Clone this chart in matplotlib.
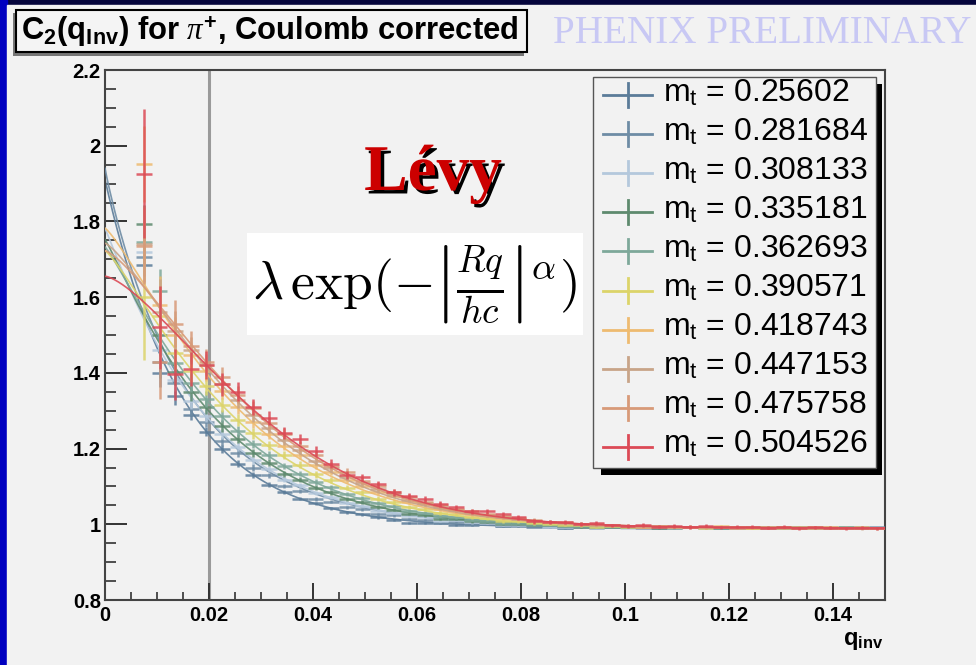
import numpy as np
import matplotlib.pyplot as plt
import matplotlib.patheffects as pe
from matplotlib.patches import Rectangle
from matplotlib.lines import Line2D
from matplotlib.ticker import MultipleLocator, FuncFormatter

plt.rcParams['font.family'] = ['Liberation Sans', 'DejaVu Sans']
plt.rcParams['mathtext.fontset'] = 'custom'
plt.rcParams['mathtext.rm'] = 'Liberation Sans'
plt.rcParams['mathtext.it'] = 'Liberation Serif:italic'
plt.rcParams['mathtext.bf'] = 'Liberation Sans:bold'

W, H = 976, 665

mt_labels = ['0.25602', '0.281684', '0.308133', '0.335181', '0.362693',
             '0.390571', '0.418743', '0.447153', '0.475758', '0.504526']
colors = ['#5b7c99', '#6e8ca5', '#b4c8dc', '#5e8a6e', '#7ea89a',
          '#dcd46a', '#eebb70', '#c8a488', '#d89a78', '#dc4a56']

# bin centres of the C2 histograms (bin width 0.003)
q_bins = [0.0075, 0.0105, 0.0135, 0.0165, 0.0195, 0.0225, 0.0255, 0.0285, 0.0315, 0.0345,
          0.0375, 0.0405, 0.0435, 0.0465, 0.0495, 0.0525, 0.0555, 0.0585, 0.0615, 0.0645,
          0.0675, 0.0705, 0.0735, 0.0765, 0.0795, 0.0825, 0.0855, 0.0885, 0.0915, 0.0945,
          0.0975, 0.1005, 0.1035, 0.1065, 0.1095, 0.1125, 0.1155, 0.1185, 0.1215, 0.1245,
          0.1275, 0.1305, 0.1335, 0.1365, 0.1395, 0.1425, 0.1455, 0.1485]
bin_half = 0.0015

c2_mt1 = [1.686, 1.40, 1.34, 1.29, 1.245, 1.20, 1.16, 1.13, 1.105, 1.085,
          1.068, 1.055, 1.042, 1.032, 1.026, 1.018, 1.011, 1.004, 1.003, 1.004,
          0.999, 0.998, 1.000, 0.995, 0.995, 0.994, 0.992, 0.989, 0.993, 0.994,
          0.993, 0.992, 0.994, 0.991, 0.993, 0.992, 0.990, 0.993, 0.991, 0.992,
          0.990, 0.992, 0.991, 0.989, 0.991, 0.990, 0.992, 0.990]
c2_mt2 = [1.705, 1.43, 1.372, 1.305, 1.271, 1.219, 1.188, 1.150, 1.129, 1.101,
          1.088, 1.068, 1.060, 1.045, 1.040, 1.027, 1.024, 1.014, 1.012, 1.004,
          1.007, 1.000, 1.001, 0.995, 0.998, 0.995, 0.995, 0.991, 0.993, 0.990,
          0.992, 0.994, 0.991, 0.993, 0.990, 0.992, 0.993, 0.990, 0.992, 0.991,
          0.989, 0.992, 0.990, 0.991, 0.989, 0.991, 0.990, 0.992]
c2_mt3 = [1.72, 1.46, 1.382, 1.325, 1.287, 1.239, 1.205, 1.169, 1.145, 1.118,
          1.103, 1.082, 1.072, 1.057, 1.049, 1.036, 1.031, 1.022, 1.019, 1.010,
          1.011, 1.005, 1.003, 0.998, 0.999, 0.998, 0.994, 0.994, 0.992, 0.991,
          0.993, 0.991, 0.994, 0.992, 0.990, 0.993, 0.991, 0.992, 0.990, 0.993,
          0.991, 0.990, 0.992, 0.990, 0.991, 0.989, 0.991, 0.990]
c2_mt4 = [1.794, 1.50, 1.401, 1.349, 1.309, 1.260, 1.226, 1.189, 1.163, 1.134,
          1.118, 1.096, 1.084, 1.067, 1.059, 1.045, 1.039, 1.028, 1.024, 1.015,
          1.015, 1.008, 1.006, 1.002, 1.002, 0.999, 0.997, 0.996, 0.993, 0.993,
          0.994, 0.992, 0.995, 0.991, 0.993, 0.992, 0.994, 0.990, 0.992, 0.991,
          0.993, 0.990, 0.992, 0.991, 0.990, 0.992, 0.990, 0.991]
c2_mt5 = [1.745, 1.615, 1.426, 1.374, 1.331, 1.286, 1.246, 1.212, 1.183, 1.154,
          1.134, 1.112, 1.098, 1.080, 1.069, 1.056, 1.048, 1.036, 1.031, 1.022,
          1.019, 1.012, 1.010, 1.004, 1.004, 1.000, 0.998, 0.996, 0.995, 0.993,
          0.995, 0.993, 0.992, 0.994, 0.991, 0.993, 0.992, 0.990, 0.993, 0.991,
          0.992, 0.990, 0.991, 0.993, 0.990, 0.991, 0.989, 0.991]
c2_mt6 = [1.60, 1.55, 1.452, 1.405, 1.365, 1.315, 1.276, 1.240, 1.209, 1.182,
          1.157, 1.132, 1.117, 1.097, 1.085, 1.068, 1.060, 1.046, 1.041, 1.030,
          1.027, 1.018, 1.016, 1.008, 1.008, 1.003, 1.001, 0.998, 0.997, 0.994,
          0.996, 0.994, 0.993, 0.995, 0.992, 0.993, 0.991, 0.994, 0.992, 0.990,
          0.993, 0.991, 0.992, 0.990, 0.992, 0.991, 0.989, 0.991]
c2_mt7 = [1.952, 1.58, 1.50, 1.447, 1.404, 1.352, 1.310, 1.270, 1.238, 1.207,
          1.183, 1.156, 1.138, 1.116, 1.102, 1.084, 1.075, 1.060, 1.053, 1.041,
          1.037, 1.028, 1.024, 1.017, 1.014, 1.009, 1.006, 1.003, 1.000, 0.998,
          0.997, 0.995, 0.994, 0.996, 0.993, 0.994, 0.992, 0.995, 0.993, 0.991,
          0.993, 0.992, 0.990, 0.992, 0.991, 0.990, 0.992, 0.990]
c2_mt8 = [1.74, 1.56, 1.51, 1.46, 1.42, 1.370, 1.328, 1.288, 1.255, 1.222,
          1.196, 1.168, 1.148, 1.125, 1.109, 1.092, 1.079, 1.065, 1.056, 1.045,
          1.038, 1.030, 1.025, 1.018, 1.015, 1.010, 1.007, 1.003, 1.001, 0.998,
          0.997, 0.995, 0.996, 0.993, 0.994, 0.992, 0.994, 0.993, 0.991, 0.993,
          0.992, 0.990, 0.992, 0.991, 0.990, 0.991, 0.989, 0.990]
c2_mt9 = [1.735, 1.43, 1.53, 1.47, 1.43, 1.388, 1.342, 1.306, 1.268, 1.239,
          1.207, 1.183, 1.155, 1.138, 1.115, 1.102, 1.084, 1.073, 1.059, 1.051,
          1.040, 1.034, 1.026, 1.022, 1.016, 1.012, 1.007, 1.005, 1.001, 1.000,
          0.998, 0.996, 0.994, 0.995, 0.993, 0.994, 0.992, 0.993, 0.991, 0.992,
          0.990, 0.992, 0.991, 0.990, 0.992, 0.990, 0.991, 0.989]
c2_mt10 = [1.926, 1.52, 1.396, 1.41, 1.42, 1.37, 1.35, 1.31, 1.28, 1.24,
           1.225, 1.193, 1.16, 1.13, 1.124, 1.106, 1.084, 1.074, 1.068, 1.053,
           1.045, 1.034, 1.034, 1.026, 1.018, 1.008, 1.005, 1.005, 1.000, 1.003,
           0.997, 0.996, 0.998, 0.994, 0.995, 0.993, 0.996, 0.992, 0.994, 0.993,
           0.991, 0.993, 0.990, 0.992, 0.991, 0.989, 0.991, 0.990]
c2_series = [c2_mt1, c2_mt2, c2_mt3, c2_mt4, c2_mt5,
             c2_mt6, c2_mt7, c2_mt8, c2_mt9, c2_mt10]

# statistical errors: profile of the highest-mt bin, smaller for lower mt
err_profile = [0.17, 0.11, 0.068, 0.045, 0.037, 0.030, 0.025, 0.021, 0.018, 0.016,
               0.014, 0.013, 0.012, 0.011, 0.010, 0.0095, 0.009, 0.0085, 0.008, 0.0075,
               0.007, 0.007, 0.0065, 0.0065, 0.006, 0.006, 0.0055, 0.0055, 0.005, 0.005,
               0.0045, 0.0045, 0.0045, 0.0045, 0.0045, 0.0045, 0.004, 0.004, 0.004, 0.004,
               0.004, 0.004, 0.004, 0.004, 0.004, 0.004, 0.004, 0.004]
err_scale = [0.35, 0.4, 0.45, 0.5, 0.55, 0.65, 0.7, 0.8, 0.9, 1.0]
err_first_bin = [0.03, 0.03, 0.05, 0.05, 0.06, 0.165, 0.10, 0.10, 0.10, 0.17]

# Levy fit parameters: lambda, R [fm], alpha, normalisation
fit_lambda = [0.93, 0.96, 0.80, 0.77, 0.75, 0.74, 0.80, 0.76, 0.74, 0.672]
fit_radius = [13.0, 12.0, 10.0, 9.0, 8.2, 7.4, 7.2, 6.6, 6.2, 5.7]
fit_alpha = [1.00, 0.95, 1.05, 1.10, 1.15, 1.22, 1.22, 1.30, 1.36, 1.45]
fit_norm = 0.99
hbarc = 0.1973


def fx(x):
    return x / W


def fy(y):
    return 1 - y / H


fig = plt.figure(figsize=(W / 100, H / 100), dpi=100)
fig.patch.set_facecolor('#05053c')
fig.add_artist(Rectangle((0, 0), fx(7), 1, transform=fig.transFigure,
                         color='#0000c0', zorder=0))
fig.add_artist(Rectangle((fx(7), 0), 1, fy(5), transform=fig.transFigure,
                         color='#f2f2f2', zorder=0))

ax = fig.add_axes([fx(105), fy(600), fx(885) - fx(105), fy(70) - fy(600)])
ax.set_facecolor('none')

q_fit = np.linspace(0, 0.15, 800)
for i in range(10):
    yerr = [e * err_scale[i] for e in err_profile]
    yerr[0] = err_first_bin[i]
    ax.errorbar(q_bins, c2_series[i], xerr=bin_half, yerr=yerr, fmt='none',
                ecolor=colors[i], elinewidth=1.8, alpha=0.85, zorder=2 + i)
    levy = fit_norm * (1 + fit_lambda[i] *
                       np.exp(-np.abs(fit_radius[i] * q_fit / hbarc) ** fit_alpha[i]))
    ax.plot(q_fit, levy, color=colors[i], lw=1.2, alpha=0.9, zorder=2 + i)

ax.axvline(0.02, color='#9a9a9a', lw=2.2, zorder=1)

ax.set_xlim(0, 0.15)
ax.set_ylim(0.8, 2.2)
ax.xaxis.set_major_locator(MultipleLocator(0.02))
ax.xaxis.set_minor_locator(MultipleLocator(0.005))
ax.yaxis.set_major_locator(MultipleLocator(0.2))
ax.yaxis.set_minor_locator(MultipleLocator(0.05))
fmt = FuncFormatter(lambda v, p: '%g' % round(v, 4))
ax.xaxis.set_major_formatter(fmt)
ax.yaxis.set_major_formatter(fmt)
ax.tick_params(axis='both', which='both', direction='in', color='#333333',
               top=False, right=False, labelsize=14.5)
ax.tick_params(axis='y', which='major', length=16, width=1.4, pad=3)
ax.tick_params(axis='y', which='minor', length=8, width=1.2)
ax.tick_params(axis='x', which='major', length=12, width=1.4, pad=4)
ax.tick_params(axis='x', which='minor', length=6, width=1.2)
for lab in ax.get_xticklabels() + ax.get_yticklabels():
    lab.set_fontweight('bold')
for s in ax.spines.values():
    s.set_color('#444444')
    s.set_linewidth(1.5)

fig.text(fx(883), fy(645), r'$\mathbf{q}_{\mathbf{inv}}$', ha='right',
         va='baseline', fontsize=17)

# title box with shadow
fig.add_artist(Rectangle((fx(13), fy(56)), fx(511), fy(13) - fy(56),
                         transform=fig.transFigure, facecolor='#777777',
                         edgecolor='none', zorder=5))
fig.add_artist(Rectangle((fx(16), fy(52)), fx(511), fy(10) - fy(52),
                         transform=fig.transFigure, facecolor='#f4f4f4',
                         edgecolor='black', lw=1.5, zorder=6))
fig.text(fx(21), fy(40), r'C$_\mathbf{2}$(q$_\mathbf{Inv}$) for $\pi^\mathbf{+}$, Coulomb corrected',
         fontsize=22.3, fontweight='bold', va='baseline', zorder=7)

fig.text(fx(553), fy(43), 'PHENIX PRELIMINARY', family='Liberation Serif',
         fontsize=28.2, color='#c8c8f4', va='baseline')

# legend with ROOT style shadow
fig.add_artist(Rectangle((fx(601), fy(475)), fx(882) - fx(601), fy(84) - fy(475),
                         transform=fig.transFigure, facecolor='black',
                         edgecolor='none', zorder=5))
fig.add_artist(Rectangle((fx(593), fy(468)), fx(876) - fx(593), fy(77) - fy(468),
                         transform=fig.transFigure, facecolor='#f2f2f2',
                         edgecolor='#555555', lw=1, zorder=6))
for i in range(10):
    yc = 95 + 39.1 * i
    fig.add_artist(Line2D([fx(603), fx(652)], [fy(yc), fy(yc)], color=colors[i],
                          lw=2, transform=fig.transFigure, zorder=7))
    fig.add_artist(Line2D([fx(628), fx(628)], [fy(yc - 12), fy(yc + 12)],
                          color=colors[i], lw=2, transform=fig.transFigure, zorder=7))
    fig.text(fx(663), fy(yc + 6), r'm$_{\rm t}$ = ' + mt_labels[i], fontsize=23,
             va='baseline', zorder=8)

# Levy label and formula
fig.text(fx(433), fy(190), 'Lévy', family='Liberation Serif', fontweight='bold',
         fontsize=47, color='#cc0000', ha='center', va='baseline',
         path_effects=[pe.withSimplePatchShadow(offset=(2.5, -2.5), shadow_rgbFace='black',
                                                alpha=1.0)])
fig.add_artist(Rectangle((fx(247), fy(335)), fx(583) - fx(247), fy(233) - fy(335),
                         transform=fig.transFigure, facecolor='white',
                         edgecolor='none', zorder=5))
fig.text(fx(414), fy(284), r'$\lambda\,\exp(-\left|\frac{Rq}{hc}\right|^{\alpha})$',
         math_fontfamily='cm', fontsize=38.5, ha='center', va='center', zorder=6)

fig.savefig('out.png', dpi=100, facecolor=fig.get_facecolor())
